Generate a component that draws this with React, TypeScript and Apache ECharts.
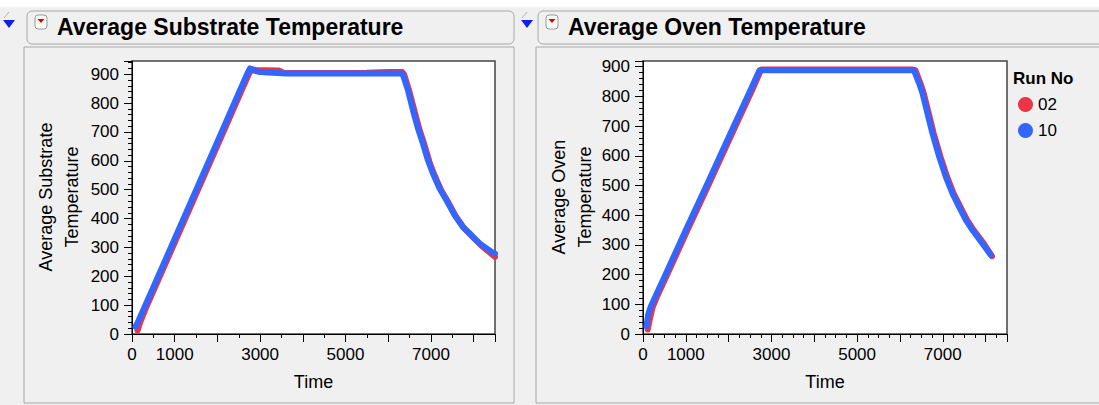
import React, { useEffect, useRef } from "react";
import * as echarts from "echarts";

const runNames = ["02", "10"];
const runColors = ["#EE3344", "#3366FF"];
const xLabelValues = [0, 1000, 3000, 5000, 7000];
const panelTitles = ["Average Substrate Temperature", "Average Oven Temperature"];
const yTitles = ["Average Substrate\nTemperature", "Average Oven\nTemperature"];
const xTitle = "Time";
const legendTitle = "Run No";

// Substrate, run 02 (red)
const subTime02 = [130, 190, 340, 540, 1040, 1540, 2040, 2540, 2740, 2800, 2900, 3100, 3450, 3550, 4500, 5500, 6000, 6330, 6372, 6500, 6620, 6735, 6850, 6965, 7082, 7238, 7395, 7590, 7785, 7980, 8175, 8500];
const subTemp02 = [12, 40, 95, 162, 330, 498, 666, 835, 902, 918, 915, 914, 913, 905, 904, 905, 908, 908, 900, 838, 770, 707, 655, 597, 551, 499, 459, 406, 365, 336, 307, 267];
// Substrate, run 10 (blue)
const subTime10 = [80, 150, 300, 500, 1000, 1500, 2000, 2500, 2700, 2760, 2850, 3000, 3300, 3600, 4500, 5500, 6250, 6332, 6463, 6580, 6697, 6813, 6930, 7047, 7203, 7360, 7554, 7748, 7944, 8138, 8449, 8500];
const subTemp10 = [25, 45, 95, 162, 330, 498, 666, 835, 902, 920, 913, 908, 905, 903, 903, 903, 903, 903, 844, 775, 712, 660, 602, 556, 504, 464, 412, 371, 343, 314, 282, 278];
// Oven, run 02 (red)
const ovenTime02 = [110, 160, 220, 340, 540, 1040, 1540, 2040, 2540, 2760, 3500, 4500, 5500, 6300, 6363, 6480, 6557, 6673, 6790, 6946, 7102, 7256, 7412, 7568, 7722, 7955, 8150];
const ovenTemp02 = [15, 50, 88, 130, 192, 350, 505, 662, 818, 890, 890, 890, 890, 890, 888, 843, 810, 742, 675, 597, 529, 473, 428, 384, 350, 305, 262];
// Oven, run 10 (blue)
const ovenTime10 = [80, 120, 180, 300, 500, 1000, 1500, 2000, 2500, 2720, 3500, 4500, 5500, 6280, 6333, 6450, 6527, 6643, 6760, 6916, 7072, 7226, 7382, 7538, 7692, 7925, 8121];
const ovenTemp10 = [25, 65, 92, 130, 192, 350, 505, 662, 818, 888, 888, 888, 888, 888, 886, 843, 810, 742, 675, 597, 529, 473, 428, 384, 350, 305, 266];

const pairs = (t: number[], v: number[]) => t.map((x, i) => [x, v[i]]);

const FONT = "'Liberation Sans', Arial, sans-serif";

function makeX(gridIndex: number, minorSplit: number) {
  return {
    type: "value",
    gridIndex,
    min: 0,
    max: 8500,
    interval: 1000,
    name: xTitle,
    nameLocation: "middle",
    nameGap: 39,
    nameTextStyle: { fontFamily: FONT, fontSize: 18, color: "#000" },
    axisLine: { show: true, onZero: false, lineStyle: { color: "#000", width: 1 } },
    axisTick: { show: true, inside: false, length: 8, lineStyle: { color: "#000" } },
    minorTick: { show: true, splitNumber: minorSplit, length: 4, lineStyle: { color: "#000" } },
    splitLine: { show: false },
    axisLabel: {
      fontFamily: FONT,
      fontSize: 17,
      color: "#000",
      margin: 12,
      formatter: (v: number) => (xLabelValues.includes(v) ? String(v) : ""),
    },
  };
}

function makeY(gridIndex: number, max: number) {
  return {
    type: "value",
    gridIndex,
    min: 0,
    max,
    interval: 100,
    axisLine: { show: true, onZero: false, lineStyle: { color: "#000", width: 1 } },
    axisTick: { show: true, inside: false, length: 8, lineStyle: { color: "#000" } },
    minorTick: { show: true, splitNumber: 5, length: 4, lineStyle: { color: "#000" } },
    splitLine: { show: false },
    axisLabel: {
      fontFamily: FONT,
      fontSize: 17,
      color: "#000",
      margin: 13,
      formatter: (v: number) => (v % 100 === 0 && v <= 900 ? String(v) : ""),
    },
  };
}

function lineSeries(name: string, color: string, data: number[][], idx: number, z: number) {
  return {
    type: "line",
    name,
    xAxisIndex: idx,
    yAxisIndex: idx,
    data,
    symbol: "none",
    showSymbol: false,
    z,
    lineStyle: { color, width: 6, cap: "round", join: "round" },
    itemStyle: { color },
  };
}

function titleBlock(x0: number, boxLeft: number, boxRight: number, title: string, iconX: number) {
  return [
    {
      type: "rect",
      shape: { x: boxLeft, y: 11, width: boxRight - boxLeft, height: 33, r: 5 },
      style: { fill: "#f0f0f0", stroke: "#a8a8a8", lineWidth: 1 },
    },
    {
      type: "polygon",
      shape: { points: [[x0, 20], [x0 + 12, 20], [x0 + 6, 28]] },
      style: { fill: "#1020e8" },
    },
    {
      type: "line",
      shape: { x1: x0 + 1, y1: 18, x2: x0 + 6, y2: 12 },
      style: { stroke: "#b0b0b0", lineWidth: 1 },
    },
    {
      type: "rect",
      shape: { x: iconX, y: 15, width: 12, height: 14, r: 3 },
      style: { fill: "#fafafa", stroke: "#9a9a9a", lineWidth: 1 },
    },
    {
      type: "polygon",
      shape: { points: [[iconX + 2.5, 19], [iconX + 9.5, 19], [iconX + 6, 23]] },
      style: { fill: "#e00000" },
    },
    {
      type: "text",
      x: iconX + 22,
      y: 27,
      style: {
        text: title,
        fontFamily: FONT,
        fontWeight: "bold",
        fontSize: 23,
        fill: "#000",
        textVerticalAlign: "middle",
      },
    },
  ];
}

export default function App() {
  const ref = useRef<HTMLDivElement>(null);
  useEffect(() => {
    if (!ref.current) return;
    const chart = echarts.init(ref.current, undefined, { renderer: "svg" });
    const option = {
      animation: false,
      backgroundColor: "#f0f0f0",
      grid: [
        { left: 132, top: 61, width: 363, height: 273, show: true, backgroundColor: "#fff", borderColor: "#444", borderWidth: 1.5, containLabel: false },
        { left: 643, top: 61, width: 364, height: 273, show: true, backgroundColor: "#fff", borderColor: "#444", borderWidth: 1.5, containLabel: false },
      ],
      xAxis: [makeX(0, 2), makeX(1, 4)],
      yAxis: [makeY(0, 946), makeY(1, 919)],
      legend: {
        data: runNames,
        orient: "vertical",
        left: 1013,
        top: 91,
        icon: "circle",
        itemWidth: 15,
        itemHeight: 15,
        itemGap: 9,
        textStyle: { fontFamily: FONT, fontSize: 17, color: "#000" },
        selectedMode: false,
      },
      series: [
        lineSeries(runNames[0], runColors[0], pairs(subTime02, subTemp02), 0, 2),
        lineSeries(runNames[1], runColors[1], pairs(subTime10, subTemp10), 0, 3),
        lineSeries(runNames[0], runColors[0], pairs(ovenTime02, ovenTemp02), 1, 2),
        lineSeries(runNames[1], runColors[1], pairs(ovenTime10, ovenTemp10), 1, 3),
      ],
      graphic: {
        elements: [
          { type: "rect", shape: { x: 0, y: 0, width: 1099, height: 7 }, style: { fill: "#ffffff" } },
          ...titleBlock(3, 27, 514, panelTitles[0], 35),
          ...titleBlock(521, 538, 1110, panelTitles[1], 546),
          { type: "rect", shape: { x: 24, y: 47, width: 490, height: 356 }, style: { fill: "none", stroke: "#a8a8a8", lineWidth: 1 } },
          { type: "rect", shape: { x: 536, y: 47, width: 580, height: 356 }, style: { fill: "none", stroke: "#a8a8a8", lineWidth: 1 } },
          {
            type: "text",
            x: 59,
            y: 197,
            rotation: Math.PI / 2,
            style: { text: yTitles[0], fontFamily: FONT, fontSize: 18, lineHeight: 26, fill: "#000", textAlign: "center", textVerticalAlign: "middle" },
          },
          {
            type: "text",
            x: 572,
            y: 197,
            rotation: Math.PI / 2,
            style: { text: yTitles[1], fontFamily: FONT, fontSize: 18, lineHeight: 26, fill: "#000", textAlign: "center", textVerticalAlign: "middle" },
          },
          {
            type: "text",
            x: 1013,
            y: 78,
            style: { text: legendTitle, fontFamily: FONT, fontWeight: "bold", fontSize: 17, fill: "#000", textVerticalAlign: "middle" },
          },
        ],
      },
    };
    chart.setOption(option as any);
    return () => chart.dispose();
  }, []);
  return <div ref={ref} style={{ position: "absolute", left: 0, top: 0, width: 1099, height: 405 }} />;
}
